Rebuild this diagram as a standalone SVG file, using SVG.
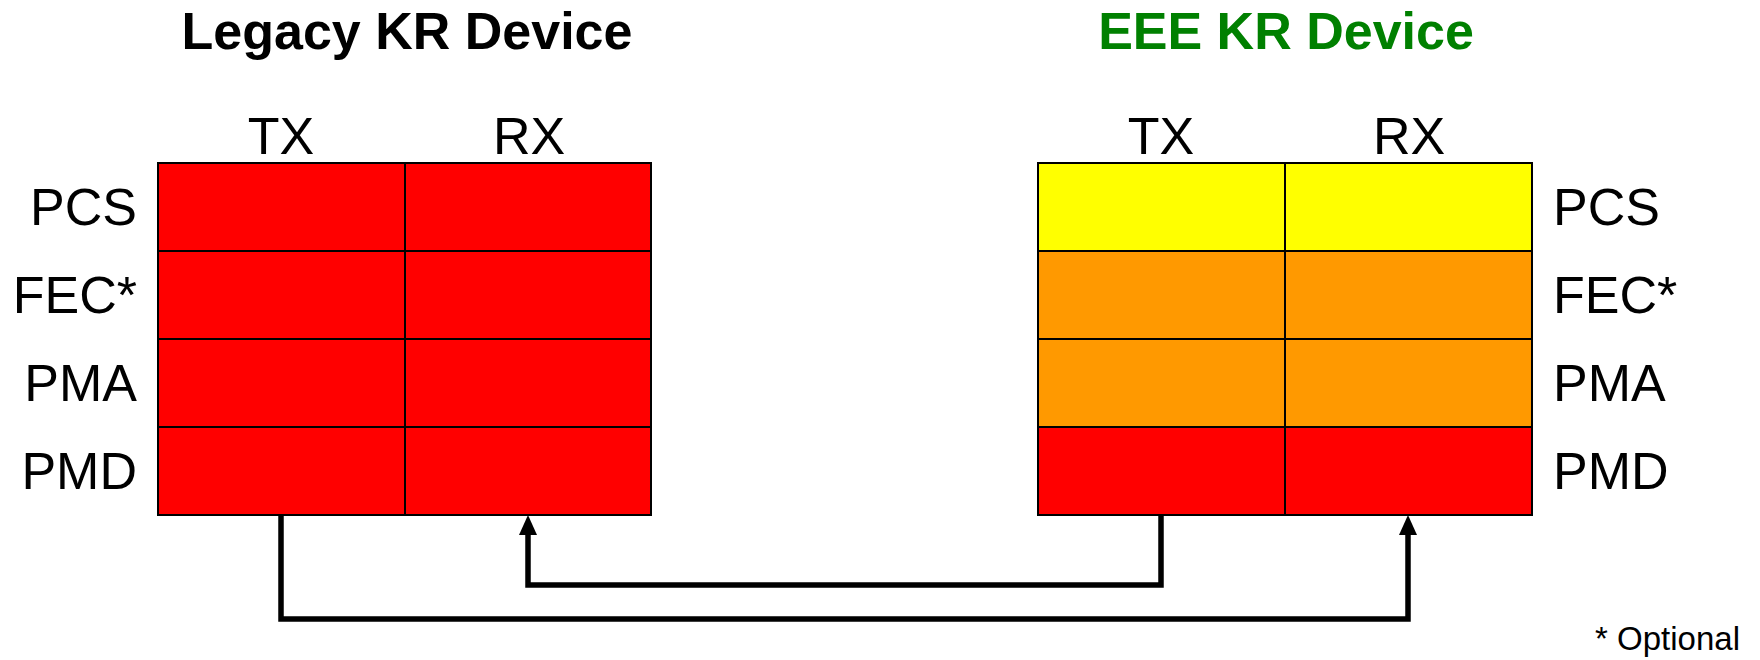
<svg xmlns="http://www.w3.org/2000/svg" width="1760" height="660" viewBox="0 0 1760 660">
<style>
.t{font-family:"Liberation Sans",Arial,sans-serif;font-size:52px;fill:#000}
.h{font-family:"Liberation Sans",Arial,sans-serif;font-size:52px;font-weight:bold;text-anchor:middle}
.c{stroke:#000;stroke-width:2}
.red{fill:#FF0000}.yel{fill:#FFFF00}.org{fill:#FF9900}
.ln{fill:none;stroke:#000;stroke-width:5.5;stroke-linejoin:miter}
</style>
<defs>
<marker id="ah" markerUnits="userSpaceOnUse" markerWidth="20" markerHeight="18" refX="0" refY="9" orient="auto">
<path d="M0,0 L20,9 L0,18 z" fill="#000"/>
</marker>
</defs>
<rect width="1760" height="660" fill="#fff"/>
<text class="h" x="407" y="49" fill="#000">Legacy KR Device</text>
<text class="h" x="1286" y="49" fill="#008000">EEE KR Device</text>
<g id="legacy">
<rect class="c red" x="158" y="163" width="247" height="88"/>
<rect class="c red" x="405" y="163" width="246" height="88"/>
<rect class="c red" x="158" y="251" width="247" height="88"/>
<rect class="c red" x="405" y="251" width="246" height="88"/>
<rect class="c red" x="158" y="339" width="247" height="88"/>
<rect class="c red" x="405" y="339" width="246" height="88"/>
<rect class="c red" x="158" y="427" width="247" height="88"/>
<rect class="c red" x="405" y="427" width="246" height="88"/>
<text class="t" x="281" y="154" text-anchor="middle">TX</text>
<text class="t" x="529" y="154" text-anchor="middle">RX</text>
<text class="t" x="137" y="225" text-anchor="end">PCS</text>
<text class="t" x="137" y="313" text-anchor="end">FEC*</text>
<text class="t" x="137" y="401" text-anchor="end">PMA</text>
<text class="t" x="137" y="489" text-anchor="end">PMD</text>
</g>
<g id="eee">
<rect class="c yel" x="1038" y="163" width="247" height="88"/>
<rect class="c yel" x="1285" y="163" width="247" height="88"/>
<rect class="c org" x="1038" y="251" width="247" height="88"/>
<rect class="c org" x="1285" y="251" width="247" height="88"/>
<rect class="c org" x="1038" y="339" width="247" height="88"/>
<rect class="c org" x="1285" y="339" width="247" height="88"/>
<rect class="c red" x="1038" y="427" width="247" height="88"/>
<rect class="c red" x="1285" y="427" width="247" height="88"/>
<text class="t" x="1161" y="154" text-anchor="middle">TX</text>
<text class="t" x="1409" y="154" text-anchor="middle">RX</text>
<text class="t" x="1553" y="225">PCS</text>
<text class="t" x="1553" y="313">FEC*</text>
<text class="t" x="1553" y="401">PMA</text>
<text class="t" x="1553" y="489">PMD</text>
</g>
<g id="connectors">
<path class="ln" d="M281,515 V619 H1408 V535" marker-end="url(#ah)"/>
<path class="ln" d="M1161,515 V585 H528 V535" marker-end="url(#ah)"/>
</g>
<text class="t" x="1740" y="650" text-anchor="end" style="font-size:33px">* Optional</text>
</svg>
